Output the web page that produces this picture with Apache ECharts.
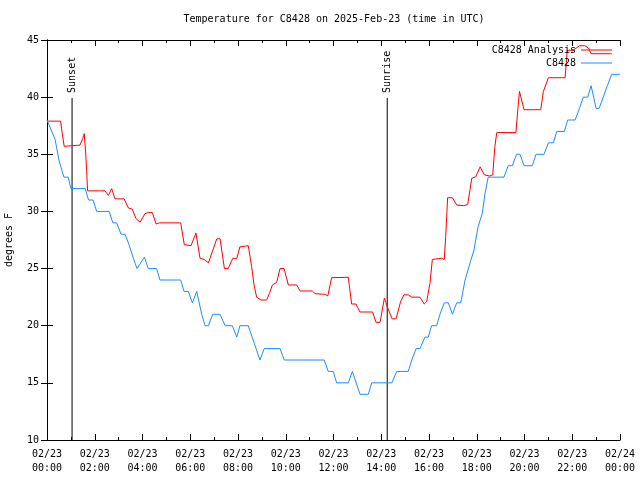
<!DOCTYPE html>
<html>
<head>
<meta charset="utf-8">
<script src="https://cdn.jsdelivr.net/npm/echarts@6/dist/echarts.min.js"></script>
<style>html,body{margin:0;padding:0;background:#fff;}#c{width:640px;height:480px;}</style>
</head>
<body>
<div id="c"></div>
<script>
// Hours since 2025-02-23 00:00 UTC
const analysisHours = [0.0,0.57,0.64,0.72,0.75,1.38,1.5,1.56,1.62,1.66,1.7,2.43,2.57,2.71,2.85,3.23,3.41,3.57,3.72,3.9,4.1,4.24,4.41,4.57,4.7,5.6,5.75,6.03,6.24,6.41,6.58,6.76,7.11,7.25,7.43,7.59,7.78,7.95,8.08,8.43,8.57,8.67,8.78,8.96,9.2,9.31,9.44,9.62,9.76,9.93,10.11,10.46,10.6,11.11,11.23,11.64,11.76,11.92,12.62,12.76,12.94,13.11,13.64,13.78,13.95,14.13,14.2,14.3,14.46,14.62,14.81,14.95,15.13,15.28,15.62,15.8,15.9,15.97,16.04,16.14,16.53,16.64,16.7,16.78,16.98,17.16,17.44,17.62,17.72,17.79,17.96,18.14,18.32,18.53,18.67,18.76,18.84,19.64,19.72,19.79,19.98,20.68,20.79,21.0,21.7,21.79,22.04,22.3,22.53,22.68,22.79,23.65];
const analysisTemps = [37.9,37.9,36.8,35.7,35.8,35.8,36.4,36.8,35.1,33.6,31.8,31.8,31.4,32.0,31.1,31.1,30.3,30.2,29.4,29.05,29.8,29.9,29.9,28.9,29.0,29.0,27.1,27.0,28.1,25.9,25.8,25.5,27.6,27.6,25.0,25.0,25.9,25.9,26.9,27.0,25.2,23.6,22.5,22.25,22.25,22.8,23.56,23.8,25.0,25.0,23.56,23.56,23.04,23.04,22.8,22.75,22.6,24.2,24.24,21.9,21.9,21.2,21.2,20.3,20.3,22.4,22.0,21.4,20.6,20.6,22.1,22.7,22.7,22.5,22.5,21.9,22.1,22.1,23.7,25.8,25.9,25.8,27.8,31.2,31.2,30.56,30.5,30.6,31.9,32.9,33.04,33.9,33.2,33.1,33.2,35.7,36.9,36.9,38.9,40.5,38.9,38.9,40.5,41.7,41.7,44.1,44.1,44.5,44.5,44.3,43.8,43.8];

const stationHours = [0.0,0.34,0.5,0.62,0.71,0.89,1.0,1.6,1.74,1.93,2.08,2.6,2.76,2.92,3.1,3.27,3.45,3.6,3.77,4.08,4.24,4.59,4.73,5.6,5.74,5.92,6.09,6.27,6.48,6.62,6.76,6.94,7.25,7.46,7.76,7.95,8.08,8.43,8.92,9.1,9.76,9.94,11.61,11.78,11.99,12.13,12.62,12.79,13.11,13.46,13.6,14.44,14.65,15.13,15.28,15.46,15.62,15.83,15.97,16.11,16.32,16.46,16.64,16.81,16.98,17.16,17.33,17.51,17.72,17.88,18.06,18.23,18.35,18.48,19.14,19.32,19.49,19.67,19.81,19.98,20.33,20.48,20.82,21.0,21.21,21.35,21.67,21.81,22.12,22.3,22.46,22.65,22.79,23.0,23.12,23.3,23.47,23.65,24.0];
const stationTemps = [38,36.3,34.5,33.6,33,33,32,32,31,31,30,30,29,29,28,28,27,26,25,26,25,25,24,24,23,23,22,23,21,20,20,21,21,20,20,19,20,20,17,18,18,17,17,16,16,15,15,16,14,14,15,15,16,16,17,18,18,19,19,20,20,21,22,22,21,22,22,24,25.5,26.6,28.7,29.8,31.6,33,33,34,34,35,35,34,34,35,35,36,36,37,37,38,38,39,40,40,41,39,39,40,41,42,42];

const eventNames = ['Sunset', 'Sunrise'];
const eventHours = [1.05, 14.25];

const xTickLabels = ['02/23\n00:00','02/23\n02:00','02/23\n04:00','02/23\n06:00','02/23\n08:00','02/23\n10:00','02/23\n12:00','02/23\n14:00','02/23\n16:00','02/23\n18:00','02/23\n20:00','02/23\n22:00','02/24\n00:00'];

const FONT = 'DejaVu Sans Mono';
const chart = echarts.init(document.getElementById('c'), null, {renderer: 'canvas'});

const baseX = {
  type: 'value', min: 0, max: 24, interval: 2,
  axisLine: {show: true, lineStyle: {color: '#000', width: 1}},
  axisTick: {show: true, inside: true, length: 6, lineStyle: {color: '#000'}},
  minorTick: {show: true, splitNumber: 2, length: 3, lineStyle: {color: '#000'}},
  splitLine: {show: false}
};
const baseY = {
  type: 'value', min: 10, max: 45, interval: 5,
  axisLine: {show: true, lineStyle: {color: '#000', width: 1}},
  axisTick: {show: true, inside: true, length: 6, lineStyle: {color: '#000'}},
  splitLine: {show: false}
};

chart.setOption({
  animation: false,
  backgroundColor: '#fff',
  title: {
    text: 'Temperature for C8428 on 2025-Feb-23 (time in UTC)',
    left: 334, top: 14, padding: 0, textAlign: 'center',
    textStyle: {fontFamily: FONT, fontSize: 10, fontWeight: 'normal', color: '#000'}
  },
  legend: {
    data: ['C8428 Analysis', 'C8428'],
    orient: 'vertical', right: 28, top: 44, padding: 0,
    align: 'right', icon: 'rect', itemWidth: 31, itemHeight: 1, itemGap: 1,
    textStyle: {fontFamily: FONT, fontSize: 10, color: '#000', lineHeight: 12}
  },
  grid: {left: 47, right: 20, top: 40, bottom: 40, containLabel: false, outerBoundsMode: 'none'},
  xAxis: [
    Object.assign({}, baseX, {
      position: 'bottom',
      axisLabel: {
        margin: 7, color: '#000', fontFamily: FONT, fontSize: 10, lineHeight: 14,
        formatter: function (v) { return xTickLabels[Math.round(v / 2)]; }
      }
    }),
    Object.assign({}, baseX, {position: 'top', axisLabel: {show: false}})
  ],
  yAxis: [
    Object.assign({}, baseY, {
      position: 'left',
      name: 'degrees F', nameLocation: 'middle', nameGap: 33,
      nameTextStyle: {fontFamily: FONT, fontSize: 10, color: '#000'},
      axisLabel: {margin: 8, color: '#000', fontFamily: FONT, fontSize: 10}
    }),
    Object.assign({}, baseY, {position: 'right', axisLabel: {show: false}})
  ],
  series: [
    {
      name: 'C8428 Analysis', type: 'line', xAxisIndex: 0, yAxisIndex: 0,
      data: analysisHours.map((h, i) => [h, analysisTemps[i]]),
      showSymbol: false, symbol: 'none', color: '#ff0000',
      lineStyle: {color: '#ff0000', width: 1}
    },
    {
      name: 'C8428', type: 'line', xAxisIndex: 0, yAxisIndex: 0,
      data: stationHours.map((h, i) => [h, stationTemps[i]]),
      showSymbol: false, symbol: 'none', color: '#1e8cff',
      lineStyle: {color: '#1e8cff', width: 1}
    },
    {
      name: 'events', type: 'custom', xAxisIndex: 0, yAxisIndex: 0,
      clip: false, silent: true,
      data: eventHours.map(h => [h, 10]),
      encode: {x: 0, y: 1},
      renderItem: function (params, api) {
        const h = api.value(0);
        const p0 = api.coord([h, 10]);
        const p1 = api.coord([h, 39.93]);
        return {
          type: 'group',
          children: [
            {type: 'line', shape: {x1: p0[0], y1: p0[1], x2: p1[0], y2: p1[1]}, style: {stroke: '#000', lineWidth: 1}},
            {type: 'text', x: p1[0], y: p1[1] - 5, rotation: Math.PI / 2,
              style: {text: eventNames[params.dataIndex], fill: '#000', font: '10px ' + FONT, align: 'left', verticalAlign: 'middle'}}
          ]
        };
      }
    }
  ]
});
</script>
</body>
</html>
